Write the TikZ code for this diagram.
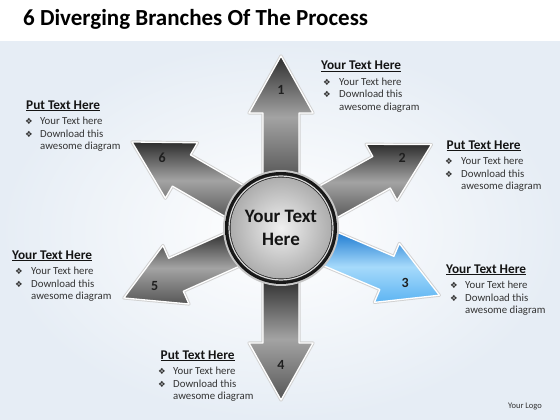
\documentclass[tikz,border=0pt]{standalone}
\usepackage{fontspec}
\setmainfont{Carlito}
\newfontfamily\symfont{DejaVu Sans}
\usetikzlibrary{calc}
\definecolor{bgblue}{HTML}{E6EDF5}
\definecolor{txt}{HTML}{333333}
\definecolor{bluedark}{HTML}{1A78D0}
\definecolor{bluemid}{HTML}{5DB4F2}
\definecolor{bluelight}{HTML}{A6DAFB}
\newcommand\bul{{\symfont\fontsize{8.5}{8.5}\selectfont ❖}}
\tikzset{
  halo/.style={draw=black!18, line width=3.2pt, line join=round},
  graybranch/.style={draw=white, line width=1.3pt, line join=round,
    top color=black!82, bottom color=black!66, middle color=black!36},
  bluebranch/.style={draw=white, line width=1.3pt, line join=round,
    top color=bluedark, bottom color=bluemid, middle color=bluelight},
  numlbl/.style={font=\bfseries\fontsize{14}{14}\selectfont, text=black!88},
  headlbl/.style={anchor=base west, font=\bfseries\fontsize{13.3}{15}\selectfont, text=black!92, inner sep=0pt},
  bodylbl/.style={anchor=base west, font=\fontsize{10.8}{12.7}\selectfont, text=txt, inner sep=0pt}
}
\newcommand\branch[2]{%
  \begin{scope}[shift={(C)}, rotate=#1]
    \draw[halo] (50,-18) -- (115,-18) -- (115,-32) -- (172,0) -- (115,32) -- (115,18) -- (50,18) -- cycle;
    \path[#2] (50,-18) -- (115,-18) -- (115,-32) -- (172,0) -- (115,32) -- (115,18) -- (50,18) -- cycle;
  \end{scope}}
% #1 name, #2 heading x, #3 heading center y (px), #4 bullet x, #5 gap, #6 heading
\newcommand\infoblock[6]{%
  \node[headlbl] (#1h) at (#2, 420-#3-4.2) {\underline{#6}};
  \node[bodylbl] (#1b) at (#4, 420-#3-16.5-3) {\begin{tabular}[t]{@{}p{#5}@{}l@{}}
    \bul & Your Text here\\ \bul & Download this\\ & awesome diagram\end{tabular}};}
\begin{document}
\begin{tikzpicture}[x=1pt,y=1pt]
\useasboundingbox (0,0) rectangle (560,420);
\fill[white] (0,0) rectangle (560,420);
\shade[inner color=white, outer color=bgblue] (0,0) rectangle (560,378);
\coordinate (C) at (281,192);
\node[anchor=base west, inner sep=0pt, font=\bfseries\fontsize{23}{27}\selectfont, text=black] (title) at (23,394.5) {6 Diverging Branches Of The Process};
% arrows
\branch{90}{graybranch}
\branch{29}{graybranch}
\branch{-23}{bluebranch}
\branch{-90}{graybranch}
\branch{204}{graybranch}
\branch{150}{graybranch}
% numbers
\node[numlbl] (n1) at ($(C)+(90:138)$) {1};
\node[numlbl] (n2) at ($(C)+(30:140)$) {2};
\node[numlbl] (n3) at ($(C)+(-24:136)$) {3};
\node[numlbl] (n4) at ($(C)+(-90:137)$) {4};
\node[numlbl] (n5) at ($(C)+(204.7:139)$) {5};
\node[numlbl] (n6) at ($(C)+(149.5:138)$) {6};
% centre circle
\fill[black!22] (C) circle (58);
\shade[inner color=black!40, outer color=black!92] (C) circle (56);
\draw[black!15, line width=1.2pt] (C) circle (52);
\shade[inner color=black!6, outer color=black!32] (C) circle (50.5);
\node[align=center, font=\bfseries\fontsize{19}{23}\selectfont, text=black!92] (ctr) at (C) {Your Text\\Here};
% text blocks
\infoblock{b1}{321}{65.7}{323}{16pt}{Your Text Here}
\infoblock{b2}{446.5}{145}{445}{16pt}{Put Text Here}
\infoblock{b3}{446}{269}{450}{15pt}{Your Text Here}
\infoblock{b4}{160.5}{355}{158}{15pt}{Put Text Here}
\infoblock{b5}{12}{255}{15}{16pt}{Your Text Here}
\infoblock{b6}{26}{105}{25}{15pt}{Put Text Here}
\node[font=\fontsize{8.5}{10}\selectfont, text=txt] (logo) at (525,13) {Your Logo};
\end{tikzpicture}
\end{document}
